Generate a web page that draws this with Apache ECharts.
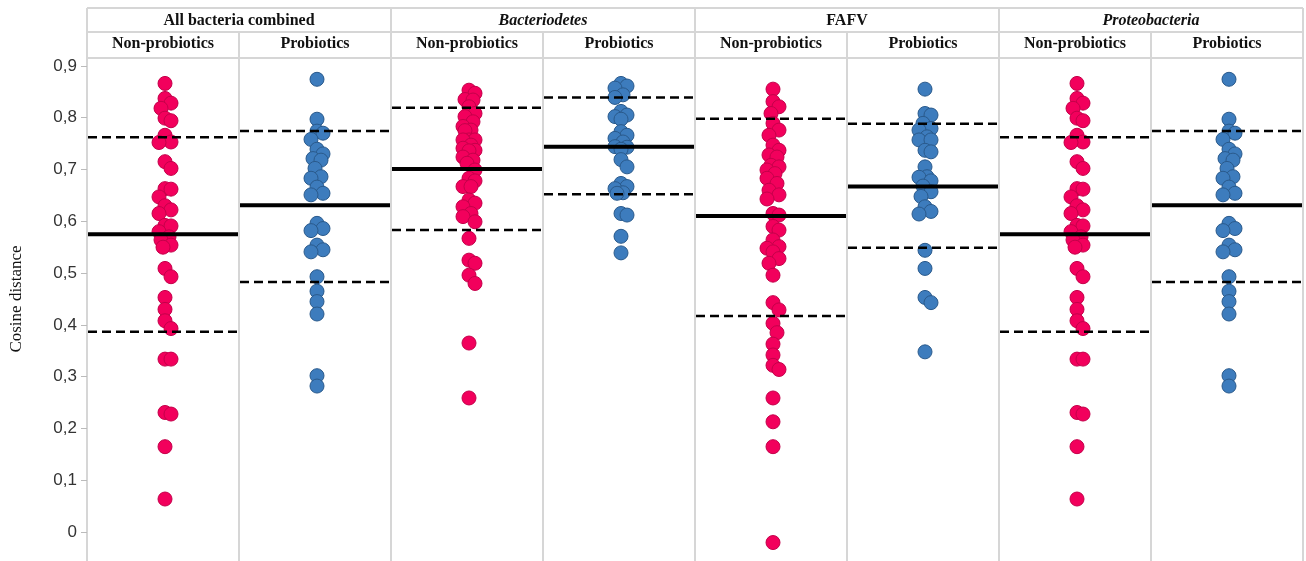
<!DOCTYPE html>
<html>
<head>
<meta charset="utf-8">
<script src="https://cdn.jsdelivr.net/npm/echarts@6/dist/echarts.min.js"></script>
<style>html,body{margin:0;padding:0;background:#fff;}#c{width:1306px;height:561px;}</style>
</head>
<body>
<div id="c"></div>
<script>
// ---- data ----
const groups = ['All bacteria combined', 'Bacteriodetes', 'FAFV', 'Proteobacteria'];
const groupItalic = [false, true, false, true];
const subgroups = ['Non-probiotics', 'Probiotics'];
const yTicks = [0, 0.1, 0.2, 0.3, 0.4, 0.5, 0.6, 0.7, 0.8, 0.9];

const allNon = [0.866, 0.837, 0.828, 0.818, 0.799, 0.794, 0.766, 0.753, 0.752, 0.715, 0.702, 0.663, 0.662, 0.647, 0.630, 0.622, 0.615, 0.592, 0.591, 0.580, 0.570, 0.564, 0.554, 0.550, 0.509, 0.493, 0.453, 0.430, 0.408, 0.393, 0.334, 0.334, 0.231, 0.228, 0.165, 0.064];
const allPro = [0.874, 0.797, 0.774, 0.770, 0.758, 0.739, 0.730, 0.721, 0.718, 0.702, 0.686, 0.683, 0.666, 0.654, 0.651, 0.596, 0.586, 0.582, 0.554, 0.545, 0.541, 0.493, 0.465, 0.445, 0.421, 0.302, 0.282];
const bactNon = [0.853, 0.847, 0.835, 0.834, 0.821, 0.808, 0.802, 0.792, 0.783, 0.776, 0.775, 0.757, 0.757, 0.757, 0.747, 0.741, 0.737, 0.736, 0.724, 0.718, 0.712, 0.699, 0.683, 0.678, 0.667, 0.667, 0.641, 0.635, 0.628, 0.615, 0.609, 0.599, 0.567, 0.525, 0.519, 0.496, 0.480, 0.365, 0.259];
const bactPro = [0.866, 0.861, 0.857, 0.844, 0.839, 0.812, 0.805, 0.802, 0.797, 0.773, 0.766, 0.760, 0.753, 0.744, 0.743, 0.739, 0.719, 0.705, 0.673, 0.667, 0.663, 0.655, 0.654, 0.615, 0.612, 0.571, 0.539];
const fafvNon = [0.855, 0.831, 0.821, 0.808, 0.789, 0.776, 0.766, 0.747, 0.737, 0.728, 0.724, 0.708, 0.705, 0.699, 0.692, 0.683, 0.673, 0.660, 0.651, 0.643, 0.615, 0.612, 0.590, 0.583, 0.564, 0.551, 0.548, 0.541, 0.528, 0.519, 0.496, 0.443, 0.429, 0.403, 0.385, 0.363, 0.342, 0.322, 0.314, 0.259, 0.213, 0.165, -0.020];
const fafvPro = [0.855, 0.808, 0.805, 0.789, 0.779, 0.776, 0.763, 0.757, 0.757, 0.737, 0.734, 0.705, 0.686, 0.685, 0.678, 0.668, 0.657, 0.648, 0.628, 0.619, 0.614, 0.544, 0.509, 0.453, 0.443, 0.348];
const protNon = allNon;
const protPro = allPro;

const means = [0.575, 0.631, 0.701, 0.744, 0.610, 0.667, 0.575, 0.631];
const upperSD = [0.762, 0.774, 0.819, 0.839, 0.798, 0.788, 0.762, 0.774];
const lowerSD = [0.387, 0.483, 0.583, 0.652, 0.417, 0.549, 0.387, 0.483];

// ---- layout ----
const W = 1306, H = 561;
const gridLeft = 87, gridWidth = 1216, gridTop = 14, gridHeight = 570;
const yMin = -0.1, yMax = 1.0;
const nPanels = 8;
const pxX = gridWidth / nPanels;
const pxY = gridHeight / (yMax - yMin);
const headTop = 8, headMid = 32, headBot = 58;
const sepColor = '#d6d6d6';
const pink = '#f2005c', pinkBorder = '#c4004a';
const blue = '#3d7cbd', blueBorder = '#2a5a8c';

const panels = [allNon, allPro, bactNon, bactPro, fafvNon, fafvPro, protNon, protPro];

function swarm(values, diam, step, maxOff) {
  const order = values.map((v, i) => i).sort((a, b) => values[b] - values[a]);
  const placed = [];
  const offs = new Array(values.length).fill(0);
  const cands = [0];
  for (let k = 1; k * step <= maxOff; k++) cands.push(k * step, -k * step);
  for (const i of order) {
    const y = values[i] * pxY;
    let bestOff = 0, bestScore = -Infinity;
    for (const c of cands) {
      let minD = Infinity;
      for (const p of placed) {
        const dy = p.y - y;
        if (Math.abs(dy) < diam) {
          const d = Math.hypot(p.x - c, dy);
          if (d < minD) minD = d;
        }
      }
      if (minD >= diam) { bestOff = c; break; }
      if (minD > bestScore) { bestScore = minD; bestOff = c; }
    }
    offs[i] = bestOff;
    placed.push({ x: bestOff, y });
  }
  return offs;
}

const nonData = [], proData = [];
panels.forEach((vals, pi) => {
  const offs = swarm(vals, 10, 2, 7);
  vals.forEach((v, j) => {
    const x = pi + 0.5 + (offs[j] + 2) / pxX;
    (pi % 2 === 0 ? nonData : proData).push([x, v]);
  });
});

function lineSeries(vals, width, dash) {
  return {
    type: 'custom',
    z: 10,
    silent: true,
    data: vals.map((v, i) => [i, v]),
    renderItem: function (params, api) {
      const i = api.value(0), v = api.value(1);
      const p1 = api.coord([i, v]);
      const p2 = api.coord([i + 1, v]);
      return {
        type: 'line',
        shape: { x1: p1[0] + 1, y1: p1[1], x2: p2[0] - 1, y2: p2[1] },
        style: { stroke: '#000', lineWidth: width, lineDash: dash }
      };
    }
  };
}

// header graphics
const graphics = [];
graphics.push({ type: 'rect', z: 100, shape: { x: 0, y: 0, width: W, height: headBot }, style: { fill: '#fff' } });
const hl = (x1, y1, x2, y2) => graphics.push({ type: 'line', z: 101, shape: { x1, y1, x2, y2 }, style: { stroke: sepColor, lineWidth: 2 } });
hl(gridLeft, headTop, gridLeft + gridWidth, headTop);
hl(gridLeft, headMid, gridLeft + gridWidth, headMid);
hl(gridLeft, headBot, gridLeft + gridWidth, headBot);
for (let g = 0; g <= groups.length; g++) {
  const x = gridLeft + g * 2 * pxX;
  hl(x, headTop, x, headBot);
}
for (let p = 1; p < nPanels; p += 2) {
  const x = gridLeft + p * pxX;
  hl(x, headMid, x, headBot);
}
groups.forEach((g, i) => {
  graphics.push({
    type: 'text', z: 102,
    x: gridLeft + (i * 2 + 1) * pxX, y: (headTop + headMid) / 2 + 1,
    style: {
      text: g, align: 'center', verticalAlign: 'middle',
      font: (groupItalic[i] ? 'italic ' : '') + 'bold 16px "Liberation Serif", serif', fill: '#111'
    }
  });
});
for (let p = 0; p < nPanels; p++) {
  graphics.push({
    type: 'text', z: 102,
    x: gridLeft + (p + 0.5) * pxX, y: (headMid + headBot) / 2 - 1,
    style: {
      text: subgroups[p % 2], align: 'center', verticalAlign: 'middle',
      font: 'bold 16px "Liberation Serif", serif', fill: '#111'
    }
  });
}

const chart = echarts.init(document.getElementById('c'), null, { renderer: 'canvas' });
chart.setOption({
  animation: false,
  backgroundColor: '#fff',
  grid: { left: gridLeft, width: gridWidth, top: gridTop, height: gridHeight, containLabel: false, outerBoundsMode: 'none' },
  xAxis: {
    type: 'value', min: 0, max: nPanels, interval: 1,
    axisLabel: { show: false }, axisTick: { show: false }, axisLine: { show: false },
    splitLine: { show: true, lineStyle: { color: sepColor, width: 2 } }
  },
  yAxis: {
    type: 'value', min: yMin, max: yMax, interval: 0.1,
    name: 'Cosine distance', nameLocation: 'middle', nameGap: 62, nameRotate: 90,
    nameTextStyle: { fontFamily: '"Liberation Serif", serif', fontSize: 17, color: '#111' },
    axisLine: { show: false },
    axisTick: { show: true, length: 6, lineStyle: { color: '#bbb', width: 1 } },
    splitLine: { show: false },
    axisLabel: {
      margin: 10, fontSize: 17, color: '#333', fontFamily: '"Liberation Sans", sans-serif',
      formatter: function (v) {
        const r = Math.round(v * 10) / 10;
        if (!yTicks.some(t => Math.abs(t - r) < 1e-9)) return '';
        return String(r).replace('.', ',');
      }
    }
  },
  graphic: graphics,
  series: [
    { type: 'scatter', name: subgroups[0], data: nonData, symbolSize: 14, z: 5,
      itemStyle: { color: pink, borderColor: pinkBorder, borderWidth: 1, opacity: 1 } },
    { type: 'scatter', name: subgroups[1], data: proData, symbolSize: 14, z: 5,
      itemStyle: { color: blue, borderColor: blueBorder, borderWidth: 1, opacity: 1 } },
    lineSeries(means, 4, null),
    lineSeries(upperSD, 2.5, [9, 5]),
    lineSeries(lowerSD, 2.5, [9, 5])
  ]
});
</script>
</body>
</html>
